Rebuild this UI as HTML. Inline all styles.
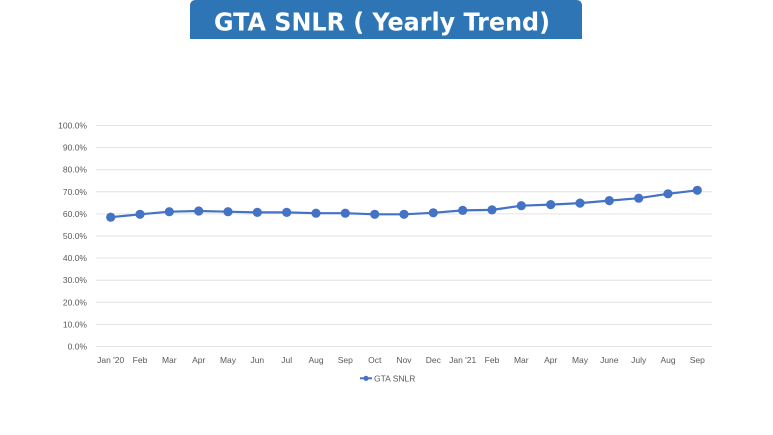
<!DOCTYPE html>
<html>
<head>
<meta charset="utf-8">
<style>
html,body{margin:0;padding:0;background:#fff;}
svg{display:block;}
text{font-family:"Liberation Sans",sans-serif;}
</style>
</head>
<body>
<svg width="773" height="435" viewBox="0 0 773 435" xmlns="http://www.w3.org/2000/svg">
<rect x="0" y="0" width="773" height="435" fill="#fff"/>
<!-- title box -->
<path d="M190,39 L190,6 Q190,0 196,0 L576,0 Q582,0 582,6 L582,39 Z" fill="#2e75b6"/>
<text x="214" y="30.7" font-size="25" font-weight="bold" fill="#fff" style="font-family:'DejaVu Sans',sans-serif" textLength="336" lengthAdjust="spacingAndGlyphs">GTA SNLR ( Yearly Trend)</text>

<!-- gridlines -->
<g stroke="#e3e3e3" stroke-width="1">
<line x1="96" x2="712" y1="125.5" y2="125.5"/>
<line x1="96" x2="712" y1="147.6" y2="147.6"/>
<line x1="96" x2="712" y1="169.7" y2="169.7"/>
<line x1="96" x2="712" y1="191.8" y2="191.8"/>
<line x1="96" x2="712" y1="213.9" y2="213.9"/>
<line x1="96" x2="712" y1="236" y2="236"/>
<line x1="96" x2="712" y1="258.1" y2="258.1"/>
<line x1="96" x2="712" y1="280.2" y2="280.2"/>
<line x1="96" x2="712" y1="302.3" y2="302.3"/>
<line x1="96" x2="712" y1="324.4" y2="324.4"/>
<line x1="96" x2="712" y1="346.5" y2="346.5"/>
</g>

<!-- y labels -->
<g font-size="8.5" fill="#595959" text-anchor="end">
<text x="87" y="128.5">100.0%</text>
<text x="87" y="150.6">90.0%</text>
<text x="87" y="172.7">80.0%</text>
<text x="87" y="194.8">70.0%</text>
<text x="87" y="216.9">60.0%</text>
<text x="87" y="239">50.0%</text>
<text x="87" y="261.1">40.0%</text>
<text x="87" y="283.2">30.0%</text>
<text x="87" y="305.3">20.0%</text>
<text x="87" y="327.4">10.0%</text>
<text x="87" y="349.5">0.0%</text>
</g>

<!-- x labels -->
<g font-size="8.5" fill="#595959" text-anchor="middle">
<text x="110.7" y="363">Jan '20</text>
<text x="140" y="363">Feb</text>
<text x="169.3" y="363">Mar</text>
<text x="198.7" y="363">Apr</text>
<text x="228" y="363">May</text>
<text x="257.3" y="363">Jun</text>
<text x="286.7" y="363">Jul</text>
<text x="316" y="363">Aug</text>
<text x="345.3" y="363">Sep</text>
<text x="374.7" y="363">Oct</text>
<text x="404" y="363">Nov</text>
<text x="433.3" y="363">Dec</text>
<text x="462.7" y="363">Jan '21</text>
<text x="492" y="363">Feb</text>
<text x="521.3" y="363">Mar</text>
<text x="550.7" y="363">Apr</text>
<text x="580" y="363">May</text>
<text x="609.3" y="363">June</text>
<text x="638.7" y="363">July</text>
<text x="668" y="363">Aug</text>
<text x="697.3" y="363">Sep</text>
</g>

<!-- series -->
<polyline fill="none" stroke="#4472c4" stroke-width="2.2" stroke-linejoin="round"
points="110.7,217.2 140,214.3 169.3,211.7 198.7,211 228,211.7 257.3,212.4 286.7,212.4 316,213.2 345.3,213.2 374.7,214.3 404,214.3 433.3,212.8 462.7,210.4 492,209.9 521.3,205.7 550.7,204.6 580,203.1 609.3,200.6 638.7,198.2 668,193.8 697.3,190.3"/>
<g fill="#4472c4">
<circle cx="110.7" cy="217.2" r="4.6"/>
<circle cx="140" cy="214.3" r="4.6"/>
<circle cx="169.3" cy="211.7" r="4.6"/>
<circle cx="198.7" cy="211" r="4.6"/>
<circle cx="228" cy="211.7" r="4.6"/>
<circle cx="257.3" cy="212.4" r="4.6"/>
<circle cx="286.7" cy="212.4" r="4.6"/>
<circle cx="316" cy="213.2" r="4.6"/>
<circle cx="345.3" cy="213.2" r="4.6"/>
<circle cx="374.7" cy="214.3" r="4.6"/>
<circle cx="404" cy="214.3" r="4.6"/>
<circle cx="433.3" cy="212.8" r="4.6"/>
<circle cx="462.7" cy="210.4" r="4.6"/>
<circle cx="492" cy="209.9" r="4.6"/>
<circle cx="521.3" cy="205.7" r="4.6"/>
<circle cx="550.7" cy="204.6" r="4.6"/>
<circle cx="580" cy="203.1" r="4.6"/>
<circle cx="609.3" cy="200.6" r="4.6"/>
<circle cx="638.7" cy="198.2" r="4.6"/>
<circle cx="668" cy="193.8" r="4.6"/>
<circle cx="697.3" cy="190.3" r="4.6"/>
</g>

<!-- legend -->
<line x1="360" x2="372" y1="378.3" y2="378.3" stroke="#4472c4" stroke-width="2"/>
<circle cx="366" cy="378.3" r="2.6" fill="#4472c4"/>
<text x="374" y="381.3" font-size="8.5" fill="#595959">GTA SNLR</text>
</svg>
</body>
</html>
